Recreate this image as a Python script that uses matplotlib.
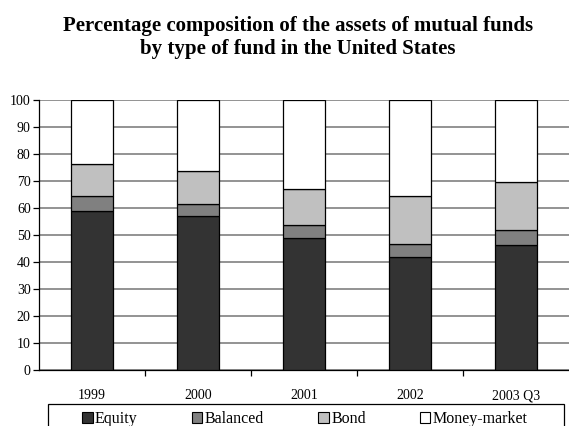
import numpy as np
import matplotlib.pyplot as plt
from matplotlib.patches import Patch, Rectangle

years = ['1999', '2000', '2001', '2002', '2003 Q3']
equity = [59.0, 57.0, 48.8, 41.7, 46.3]
balanced = [5.6, 4.6, 4.8, 5.0, 5.7]
bond = [11.7, 12.0, 13.4, 17.7, 17.8]
money_market = [23.7, 26.4, 33.0, 35.6, 30.2]

plt.rcParams['font.family'] = ['Liberation Serif', 'DejaVu Serif']

W, H = 569, 426
fig = plt.figure(figsize=(W / 100, H / 100), dpi=100)
ax = fig.add_axes([39/W, 56/H, 530/W, 270/H])

x = np.arange(len(years))
series = [('Equity', equity, '#333333'),
          ('Balanced', balanced, '#808080'),
          ('Bond', bond, '#c0c0c0'),
          ('Money-market', money_market, '#ffffff')]

bottom = np.zeros(len(years))
for name, vals, col in series:
    ax.bar(x, vals, width=0.4, bottom=bottom, color=col, edgecolor='black',
           linewidth=0.9, label=name, zorder=3)
    bottom += np.array(vals)

ax.set_xlim(-0.5, len(years) - 0.5)
ax.set_ylim(0, 100)
ax.set_yticks(range(0, 101, 10))
ax.yaxis.grid(True, color='#808080', linewidth=1.2, zorder=0)
ax.set_axisbelow(True)

ax.set_xticks(x)
ax.set_xticklabels(years)
ax.set_xticks(np.arange(0.5, len(years) - 0.5), minor=True)
ax.tick_params(axis='x', which='major', length=0, pad=14, labelsize=10)
ax.tick_params(axis='x', which='minor', length=4, width=0.9, direction='out')
ax.tick_params(axis='y', length=4, width=0.9, labelsize=10, pad=2)

for s in ['top', 'right']:
    ax.spines[s].set_visible(False)
for s in ['left', 'bottom']:
    ax.spines[s].set_linewidth(0.9)

fig.text(298/W, 1 - 26/H, 'Percentage composition of the assets of mutual funds',
         ha='center', va='center', fontsize=15, fontweight='bold')
fig.text(298/W, 1 - 49/H, 'by type of fund in the United States',
         ha='center', va='center', fontsize=15, fontweight='bold')

# legend entries without their own frame, box drawn separately below
handles = [Patch(facecolor=col, edgecolor='black', linewidth=0.8, label=name)
           for name, vals, col in series]
fig.legend(handles=handles, loc='upper center', ncol=4,
           bbox_to_anchor=(305/W, 1 - 404/H),
           fontsize=11.5, frameon=False, borderaxespad=0, borderpad=0.45,
           handlelength=0.65, handleheight=0.65, handletextpad=0.15,
           columnspacing=3.4)
fig.add_artist(Rectangle((48/W, -0.1), 516/W, 0.1 + 22/H,
                         transform=fig.transFigure, fill=False,
                         edgecolor='black', linewidth=0.9))

fig.savefig('out.png', dpi=100)
